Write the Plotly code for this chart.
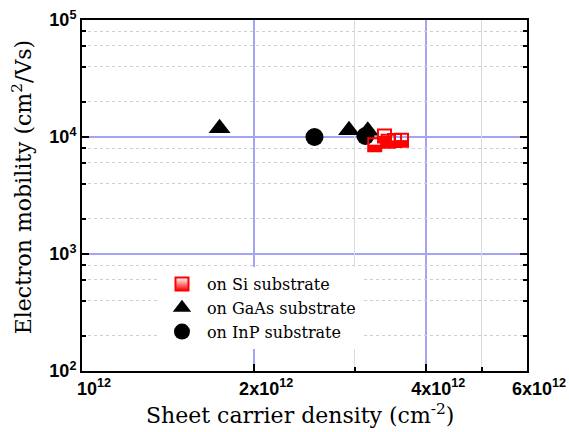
import numpy as np
import plotly.graph_objects as go

# ---------------- data ----------------
series_names = ["on Si substrate", "on GaAs substrate", "on InP substrate"]

si_x = [3.25e12, 3.38e12, 3.43e12, 3.52e12, 3.62e12]
si_y = [8.6e3, 1.02e4, 9.2e3, 9.35e3, 9.4e3]

gaas_x = [1.74e12, 2.93e12, 3.16e12]
gaas_y = [1.19e4, 1.14e4, 1.13e4]

inp_x = [2.55e12, 3.13e12]
inp_y = [1.0e4, 1.02e4]

x_tickvals = [1e12, 2e12, 4e12, 6e12]
x_ticktext = ["10<sup>12</sup>", "2x10<sup>12</sup>", "4x10<sup>12</sup>", "6x10<sup>12</sup>"]
x_minor_vals = [3e12, 5e12]

y_tickvals = [1e2, 1e3, 1e4, 1e5]
y_ticktext = ["10<sup>2</sup>", "10<sup>3</sup>", "10<sup>4</sup>", "10<sup>5</sup>"]
y_minor_vals = [200, 400, 600, 800, 2000, 4000, 6000, 8000, 20000, 40000, 60000, 80000]

x_title = "Sheet carrier density (cm<sup>-2</sup>)"
y_title = "Electron mobility (cm<sup>2</sup>/Vs)"

# ---------------- styles ----------------
RED = "#ff0000"
BLUE_GRID = "#a4a4f4"
SERIF = "DejaVu Serif"
SANS = "Liberation Sans"
X_RANGE = [12, np.log10(6e12)]
Y_RANGE = [2, 5]

fig = go.Figure()

# helper trace that makes the minor-grid overlay axes exist
fig.add_trace(go.Scatter(x=[None], y=[None], xaxis="x2", yaxis="y2",
                         mode="markers", showlegend=False, hoverinfo="skip"))

# legend-only entry for Si (half-filled look via vertical gradient)
fig.add_trace(go.Scatter(
    x=[None], y=[None], mode="markers", name=series_names[0],
    marker=dict(symbol="square", size=13, color="white",
                gradient=dict(type="vertical", color=RED),
                line=dict(color=RED, width=2)),
))

fig.add_trace(go.Scatter(
    x=gaas_x, y=gaas_y, mode="markers", name=series_names[1],
    marker=dict(symbol="triangle-up", size=19, color="black", line=dict(width=0)),
))

fig.add_trace(go.Scatter(
    x=inp_x, y=inp_y, mode="markers", name=series_names[2],
    marker=dict(symbol="circle", size=18, color="black", line=dict(width=0)),
))

# Si markers: open square + filled lower half
fig.add_trace(go.Scatter(
    x=si_x, y=si_y, mode="markers", name=series_names[0], showlegend=False,
    marker=dict(symbol="square-open", size=13, color=RED, line=dict(color=RED, width=2)),
))
fig.add_trace(go.Scatter(
    x=si_x, y=si_y, mode="markers", name=series_names[0], showlegend=False,
    marker=dict(symbol="line-ew", size=9.3, color=RED, standoff=3.25,
                line=dict(color=RED, width=6.5)),
))

tickfont = dict(family=SANS, size=18, color="black", weight="bold")

fig.update_layout(
    xaxis=dict(
        type="log", range=X_RANGE, automargin=False,
        tickmode="array", tickvals=x_tickvals, ticktext=x_ticktext,
        ticks="inside", ticklen=7, tickwidth=1.5, tickcolor="black",
        showline=True, linecolor="black", linewidth=2, mirror=True,
        showgrid=True, gridcolor=BLUE_GRID, gridwidth=2, zeroline=False,
        tickfont=tickfont, ticklabelshift=12,
    ),
    yaxis=dict(
        type="log", range=Y_RANGE, automargin=False,
        tickmode="array", tickvals=y_tickvals, ticktext=y_ticktext,
        ticks="inside", ticklen=7, tickwidth=1.5, tickcolor="black",
        showline=True, linecolor="black", linewidth=2, mirror="ticks",
        showgrid=True, gridcolor=BLUE_GRID, gridwidth=2, zeroline=False,
        tickfont=tickfont,
    ),
    xaxis2=dict(
        type="log", range=X_RANGE, overlaying="x", anchor="y2", side="bottom",
        automargin=False, tickmode="array", tickvals=x_minor_vals,
        showticklabels=False, ticks="inside", ticklen=4, tickwidth=1.5,
        tickcolor="black", showline=False, showgrid=True,
        gridcolor="#dcdcdc", gridwidth=1, zeroline=False,
    ),
    yaxis2=dict(
        type="log", range=Y_RANGE, overlaying="y", anchor="x2", side="left",
        automargin=False, tickmode="array", tickvals=y_minor_vals,
        showticklabels=False, ticks="inside", ticklen=4, tickwidth=1.5,
        tickcolor="black", showline=True, linecolor="black", linewidth=2,
        mirror="ticks", showgrid=True, gridcolor="#cfcfcf", gridwidth=1,
        griddash="dot", zeroline=False,
    ),
    width=569, height=432,
    margin=dict(l=82, r=42, t=20, b=61, autoexpand=False),
    paper_bgcolor="white", plot_bgcolor="white",
    font=dict(family=SANS, color="black"),
    showlegend=True,
    legend=dict(x=0.1685, y=0.296, xanchor="left", yanchor="top",
                bgcolor="white", borderwidth=0, tracegroupgap=0, itemwidth=40,
                font=dict(family=SERIF, size=16, color="black")),
    annotations=[
        dict(text=y_title, xref="paper", yref="paper", x=-0.135, y=0.526,
             xanchor="center", yanchor="middle", textangle=-90, showarrow=False,
             font=dict(family=SERIF, size=22, color="black")),
        dict(text=x_title, xref="paper", yref="paper", x=0.49, y=-0.1223,
             xanchor="center", yanchor="middle", showarrow=False,
             font=dict(family=SERIF, size=22, color="black")),
    ],
)

fig.write_html("out.html", config={"displayModeBar": False},
               post_script="document.body.style.margin='0px';document.body.style.overflow='hidden';")
